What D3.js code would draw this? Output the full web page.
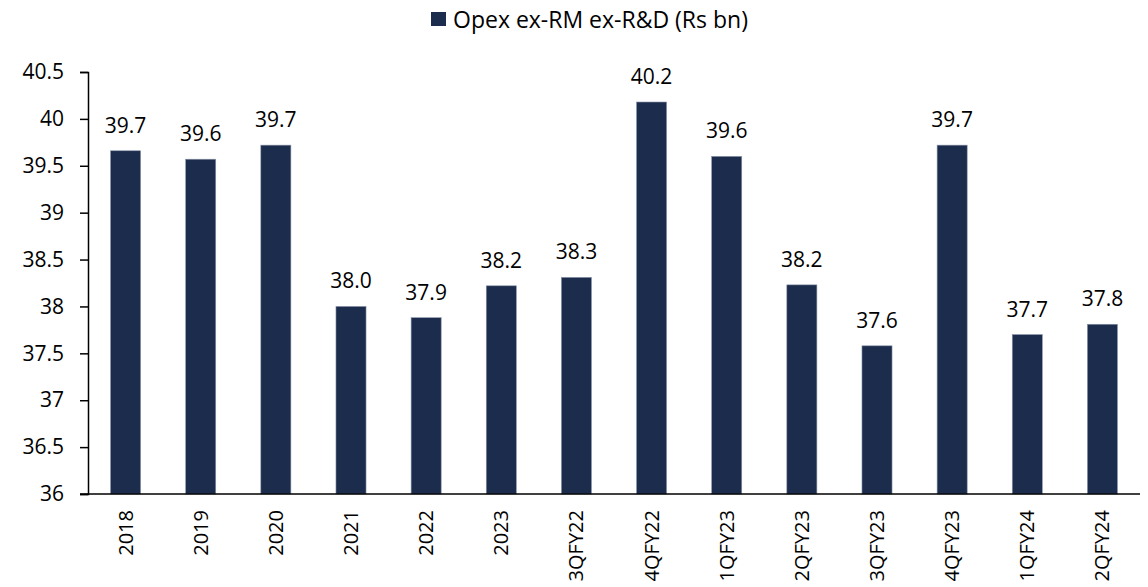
<!DOCTYPE html>
<html>
<head>
<meta charset="utf-8">
<script src="https://cdn.jsdelivr.net/npm/d3@7"></script>
<style>
  body { margin: 0; background: #fff; }
  svg text { font-family: "Open Sans", sans-serif; fill: #000; }
</style>
</head>
<body>
<svg id="chart" width="1148" height="587"></svg>
<script>
// Opex ex-RM ex-R&D, Rs bn
const categories = ["2018", "2019", "2020", "2021", "2022", "2023",
  "3QFY22", "4QFY22", "1QFY23", "2QFY23", "3QFY23", "4QFY23", "1QFY24", "2QFY24"];
const values = [39.66, 39.57, 39.72, 38.0, 37.88, 38.22,
  38.31, 40.18, 39.60, 38.23, 37.58, 39.72, 37.70, 37.81];
const yTicks = [36, 36.5, 37, 37.5, 38, 38.5, 39, 39.5, 40, 40.5];
const seriesName = "Opex ex-RM ex-R&D (Rs bn)";

const BAR = "#1c2c4c";
const W = 1148, H = 587;
const m = { top: 72, right: 8, bottom: 93, left: 88 };

const svg = d3.select("#chart");

const x = d3.scaleBand()
  .domain(categories)
  .range([m.left, W - m.right])
  .paddingInner(0.6)
  .paddingOuter(0.3);

const y = d3.scaleLinear()
  .domain([36, 40.5])
  .range([H - m.bottom, m.top]);

// bars
svg.append("g")
  .selectAll("rect")
  .data(values)
  .join("rect")
  .attr("x", (d, i) => x(categories[i]))
  .attr("y", d => y(d))
  .attr("width", x.bandwidth())
  .attr("height", d => y(36) - y(d))
  .attr("fill", BAR)
  .attr("stroke", "#8a94a8")
  .attr("stroke-width", 0.6);

// value labels
svg.append("g")
  .selectAll("text")
  .data(values)
  .join("text")
  .attr("x", (d, i) => x(categories[i]) + x.bandwidth() / 2)
  .attr("y", d => y(d) - 18)
  .attr("text-anchor", "middle")
  .style("font-size", "21px")
  .text(d => d.toFixed(1));

// y axis
const yAxis = svg.append("g")
  .attr("transform", `translate(${m.left},0)`)
  .call(d3.axisLeft(y).tickValues(yTicks).tickSize(8).tickPadding(16)
    .tickFormat(d => String(d)));
yAxis.select(".domain").attr("stroke", "#000").attr("stroke-width", 1.5);
yAxis.selectAll(".tick line").attr("stroke", "#000").attr("stroke-width", 1.5);
yAxis.selectAll(".tick text").style("font-size", "21px");

// x axis
const xAxis = svg.append("g")
  .attr("transform", `translate(0,${H - m.bottom})`)
  .call(d3.axisBottom(x).tickSize(0).tickPadding(0));
xAxis.select(".domain").attr("stroke", "#000").attr("stroke-width", 1.5)
  .attr("d", `M${m.left - 8},0H${W - m.right}`);
xAxis.selectAll(".tick text")
  .style("font-size", "20px")
  .attr("transform", "rotate(-90)")
  .attr("text-anchor", "end")
  .attr("x", -16)
  .attr("y", 0)
  .attr("dy", "0.35em");

// legend
const legend = svg.append("g").attr("transform", "translate(431,12)");
legend.append("rect").attr("width", 15).attr("height", 14).attr("fill", BAR);
legend.append("text")
  .attr("x", 22).attr("y", 8).attr("dy", "0.35em")
  .style("font-size", "23px")
  .text(seriesName);
</script>
</body>
</html>
